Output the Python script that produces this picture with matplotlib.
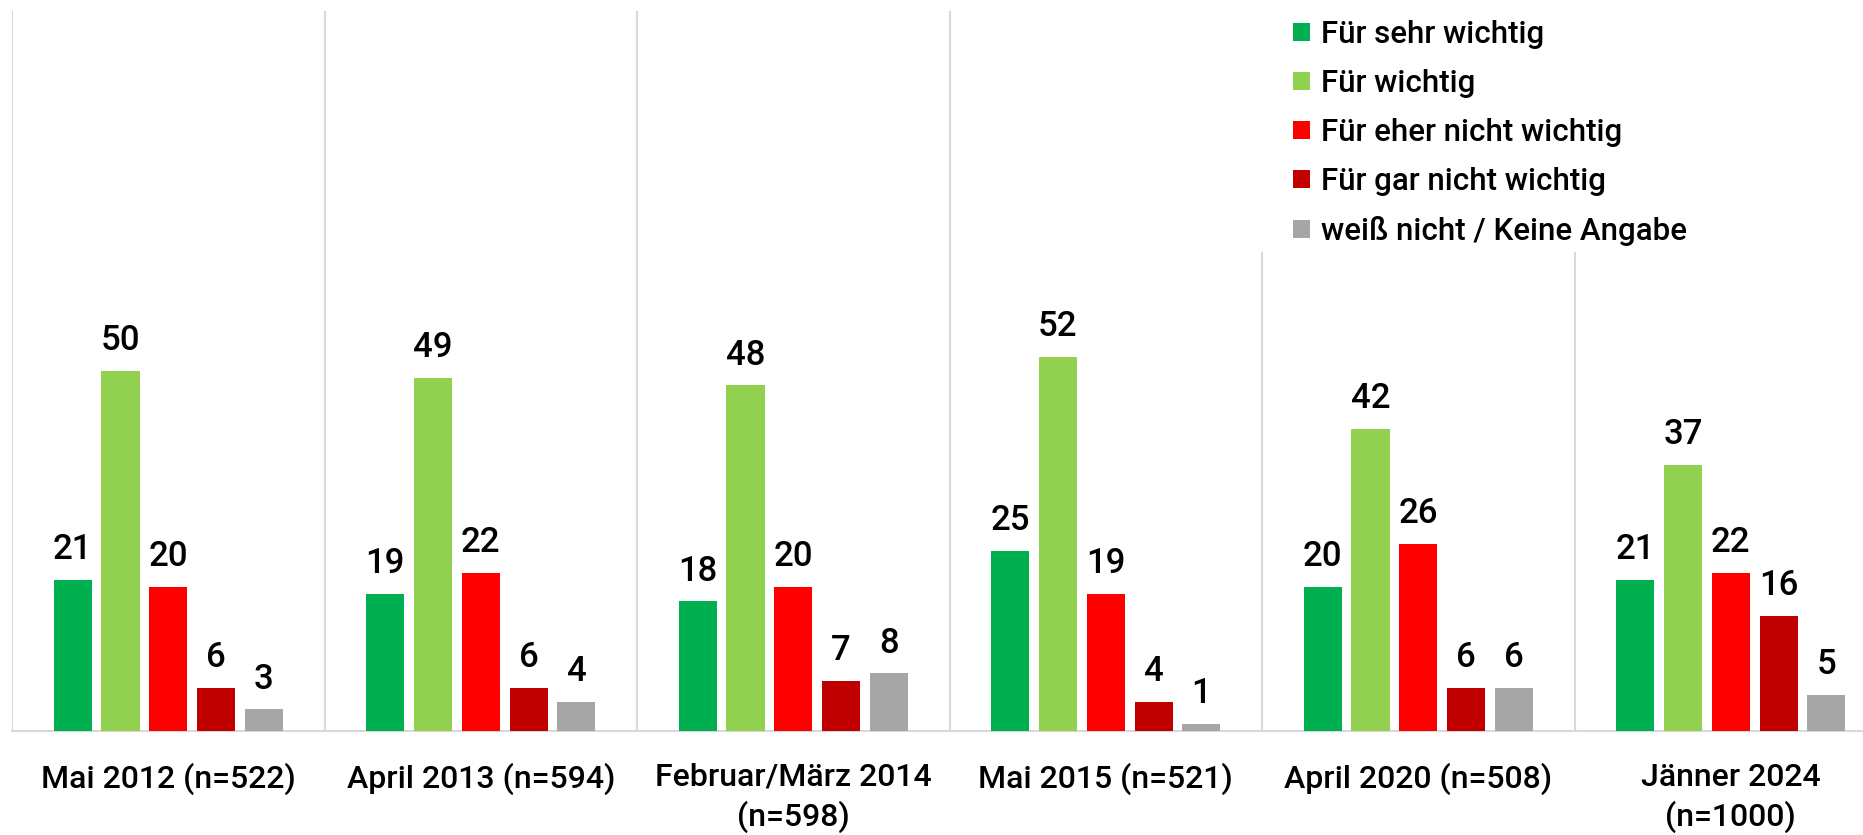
import numpy as np
import matplotlib
matplotlib.use("Agg")
import matplotlib.pyplot as plt
from matplotlib import font_manager

# Umfragewellen und Anteile in Prozent
waves = ["Mai 2012 (n=522)", "April 2013 (n=594)", "Februar/März 2014\n(n=598)",
         "Mai 2015 (n=521)", "April 2020 (n=508)", "Jänner 2024\n(n=1000)"]
categories = ["Für sehr wichtig", "Für wichtig", "Für eher nicht wichtig",
              "Für gar nicht wichtig", "weiß nicht / Keine Angabe"]
sehr_wichtig = [21, 19, 18, 25, 20, 21]
wichtig = [50, 49, 48, 52, 42, 37]
eher_nicht = [20, 22, 20, 19, 26, 22]
gar_nicht = [6, 6, 7, 4, 6, 16]
weiss_nicht = [3, 4, 8, 1, 6, 5]
colors = ["#00B050", "#92D050", "#FF0000", "#C00000", "#A6A6A6"]

series = [sehr_wichtig, wichtig, eher_nicht, gar_nicht, weiss_nicht]

names = {f.name for f in font_manager.fontManager.ttflist}
family = "Liberation Sans Narrow" if "Liberation Sans Narrow" in names else "Roboto"
plt.rcParams["font.family"] = [family, "DejaVu Sans"]

fig = plt.figure(figsize=(18.63, 8.35), dpi=100)
ax = fig.add_axes([12 / 1863, 1 - 731 / 835, 1875 / 1863, 720 / 835])

x = np.arange(len(waves))
pitch = 0.153
width = 0.122
for i, (vals, col, name) in enumerate(zip(series, colors, categories)):
    pos = x + (i - 2) * pitch
    bars = ax.bar(pos, vals, width, color=col, label=name, zorder=3)
    for b, v in zip(bars, vals):
        ax.annotate(str(v), (b.get_x() + b.get_width() / 2, v),
                    xytext=(0, 10), textcoords="offset points",
                    ha="center", va="bottom", fontsize=25, fontweight="medium",
                    color="black")

ax.set_xlim(-0.5, len(waves) - 0.5)
ax.set_ylim(0, 100)

# Trennlinien zwischen den Wellen (rechts unter der Legende verkürzt)
for k in range(len(waves)):
    top = 0.664 if k >= 4 else 1.0
    ax.axvline(k - 0.5, ymin=0, ymax=top, color="#D9D9D9", lw=1.5, zorder=1)

for s in ["top", "right", "left"]:
    ax.spines[s].set_visible(False)
ax.spines["bottom"].set_color("#D9D9D9")
ax.spines["bottom"].set_linewidth(1.5)

ax.set_yticks([])
ax.set_xticks(x)
ax.set_xticklabels(waves, fontsize=23, linespacing=1.35, fontweight="medium")
ax.tick_params(axis="x", length=0, pad=23)

ax.legend(loc="upper left", bbox_to_anchor=(1293 / 1863, 1 - 20 / 835),
          bbox_transform=fig.transFigure, frameon=False,
          prop={"size": 22.5, "weight": "medium"},
          handlelength=0.55, handleheight=0.55, handletextpad=0.35,
          labelspacing=0.64, borderpad=0, borderaxespad=0)

fig.savefig("out.png", dpi=100)
